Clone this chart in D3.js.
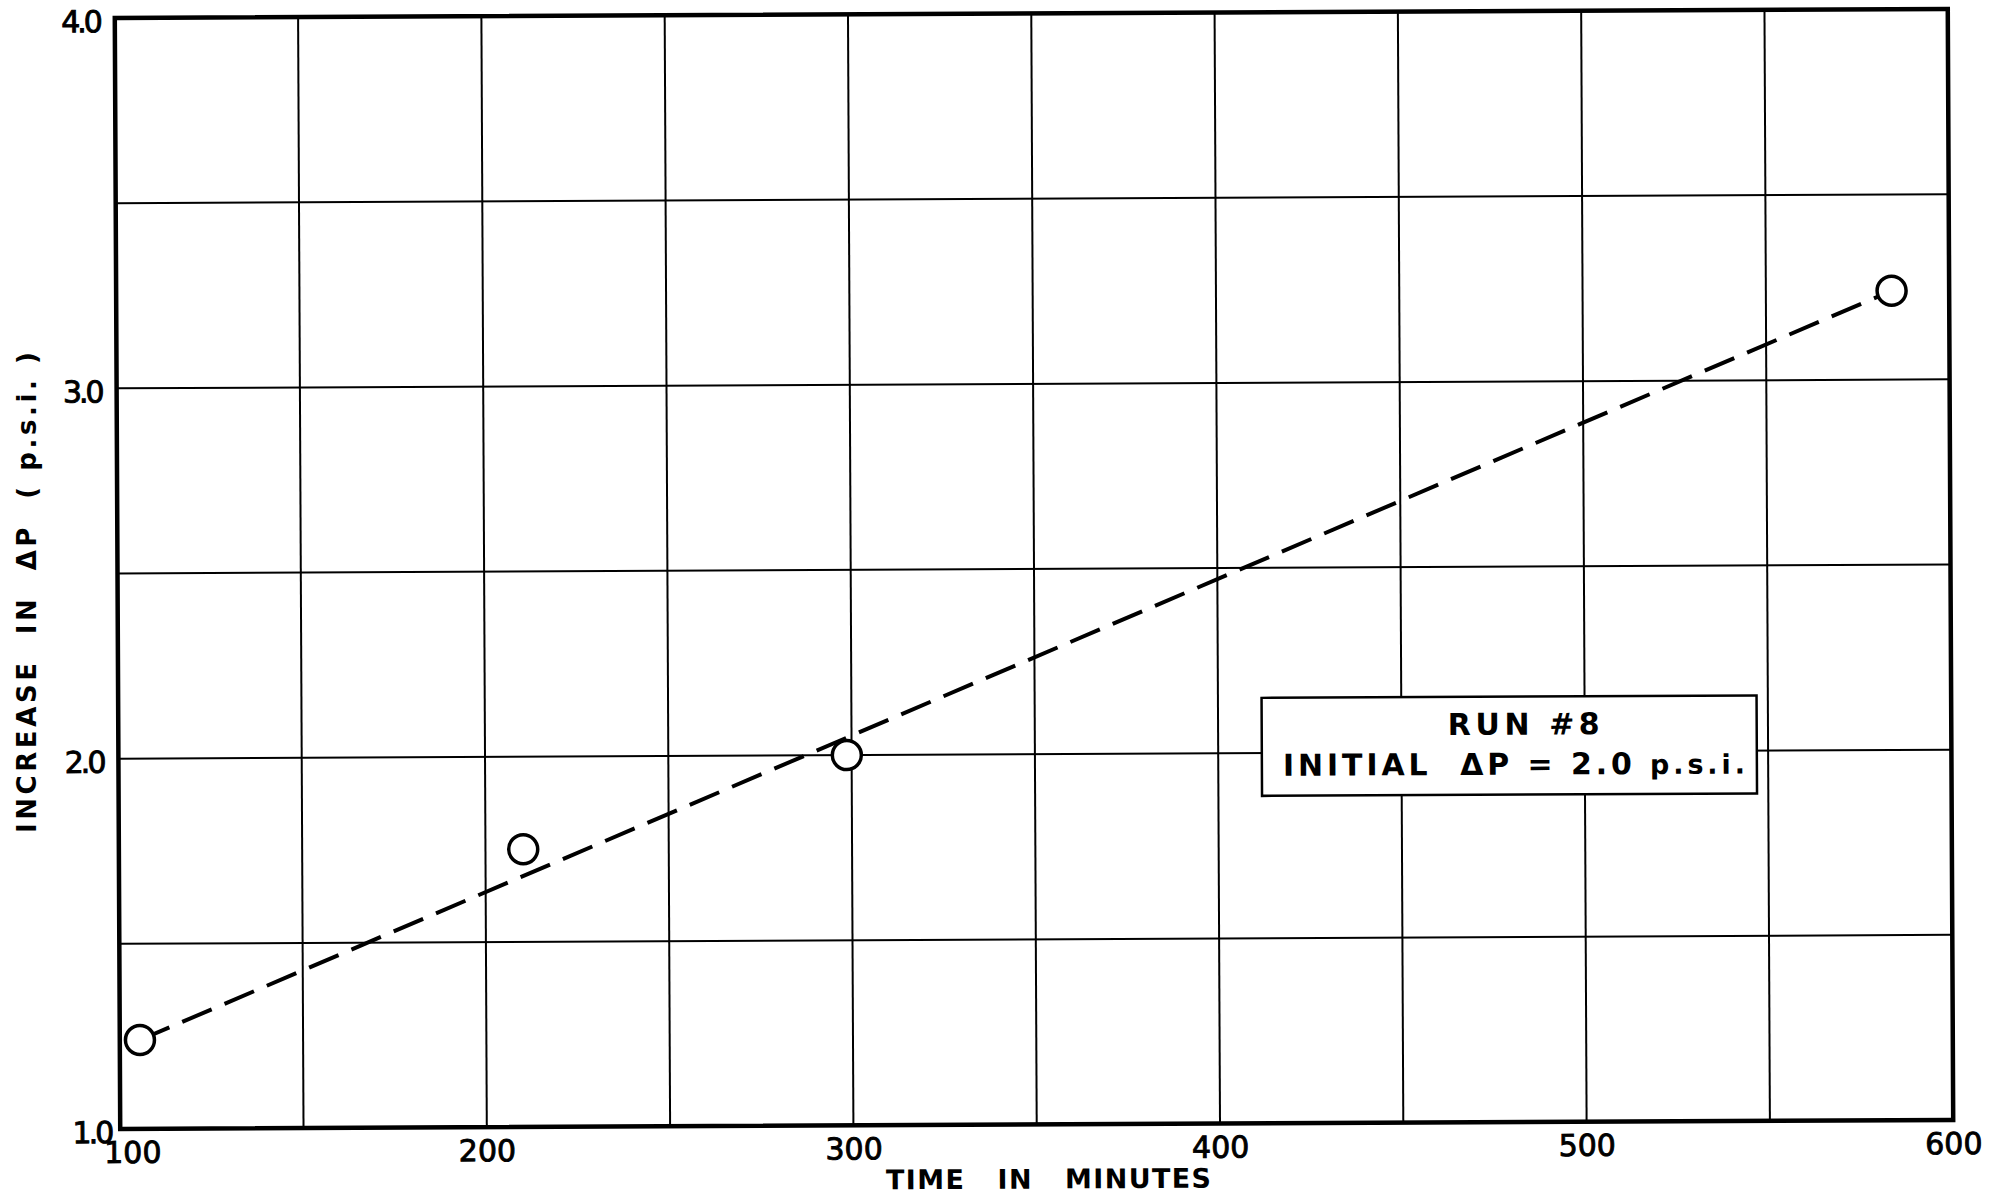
<!DOCTYPE html>
<html>
<head>
<meta charset="utf-8">
<script src="https://cdn.jsdelivr.net/npm/d3@7"></script>
<style>
  body { margin: 0; background: #fff; }
  svg text { font-family: "DejaVu Sans", sans-serif; fill: #000; font-weight: bold; }
</style>
</head>
<body>
<script>
// values
var minutes = [105.5, 210.3, 298.7, 584.3];
var increase = [1.24, 1.75, 2.0, 3.24];
var xTicks = [100, 200, 300, 400, 500, 600];
var yTicks = [1.0, 2.0, 3.0, 4.0];
var xGrid = [150, 200, 250, 300, 350, 400, 450, 500, 550];
var yGrid = [1.5, 2.0, 2.5, 3.0, 3.5];
var xLabels = ["100", "200", "300", "400", "500", "600"];
var yLabels = ["1.0", "2.0", "3.0", "4.0"];

var W = 1995, H = 1201;
var margin = {top: 13.5, left: 117.5},
    width = 1833,
    height = 1111;

var svg = d3.select("body").append("svg")
    .attr("width", W)
    .attr("height", H);

// the scan is tilted a little
var g = svg.append("g")
    .attr("transform", "rotate(-0.28, 1034, 570) translate(" + margin.left + "," + margin.top + ")");

var x = d3.scaleLinear().domain([100, 600]).range([0, width]);
var y = d3.scaleLinear().domain([1, 4]).range([height, 0]);

var pts = minutes.map(function(m, i) { return {m: m, v: increase[i]}; });

// grid
g.selectAll(".vg").data(xGrid).enter().append("line")
    .attr("x1", function(d) { return x(d); })
    .attr("x2", function(d) { return x(d); })
    .attr("y1", 0).attr("y2", height)
    .attr("stroke", "#000").attr("stroke-width", 2);

g.selectAll(".hg").data(yGrid).enter().append("line")
    .attr("y1", function(d) { return y(d); })
    .attr("y2", function(d) { return y(d); })
    .attr("x1", 0).attr("x2", width)
    .attr("stroke", "#000").attr("stroke-width", 2);

// frame
g.append("rect")
    .attr("width", width).attr("height", height)
    .attr("fill", "none")
    .attr("stroke", "#000").attr("stroke-width", 4.5);

// tick labels
var xAxis = d3.axisBottom(x).tickValues(xTicks).tickSize(0)
    .tickFormat(function(d, i) { return xLabels[i]; });
var xa = g.append("g").attr("transform", "translate(0," + height + ")").call(xAxis);
xa.select(".domain").remove();
xa.selectAll("text")
    .attr("y", 34).attr("dy", 0)
    .attr("dx", function(d) { return d === 100 ? 12 : 0; })
    .style("font-size", "30px")
    .style("font-weight", "normal")
    .attr("fill", "#000")
    .attr("stroke", "#000").attr("stroke-width", 0.9);

var yAxis = d3.axisLeft(y).tickValues(yTicks).tickSize(0)
    .tickFormat(function(d, i) { return yLabels[i]; });
var ya = g.append("g").call(yAxis);
ya.select(".domain").remove();
ya.selectAll("text")
    .attr("x", -15).attr("dy", "0.45em")
    .attr("dx", function(d) { return d === 1 ? 6 : 0; })
    .style("font-size", "30px")
    .style("font-weight", "normal")
    .style("letter-spacing", "-3px")
    .attr("fill", "#000")
    .attr("stroke", "#000").attr("stroke-width", 0.9);

// dashed trend line through first and last readings
var line = d3.line()
    .x(function(d) { return x(d.m); })
    .y(function(d) { return y(d.v); });

g.append("path")
    .datum([pts[0], pts[pts.length - 1]])
    .attr("d", line)
    .attr("fill", "none")
    .attr("stroke", "#000")
    .attr("stroke-width", 4)
    .attr("stroke-dasharray", "32,14");

// open circles
g.selectAll(".pt").data(pts).enter().append("circle")
    .attr("cx", function(d) { return x(d.m); })
    .attr("cy", function(d) { return y(d.v); })
    .attr("r", 14.5)
    .attr("fill", "#fff")
    .attr("stroke", "#000")
    .attr("stroke-width", 3.5);

// legend box
var bx = x(411.9), by = y(2.149);
var box = g.append("g").attr("transform", "translate(" + bx + "," + by + ")");
box.append("rect")
    .attr("width", 495).attr("height", 98)
    .attr("fill", "#fff")
    .attr("stroke", "#000").attr("stroke-width", 2.5);
box.append("text")
    .attr("x", 186).attr("y", 38)
    .attr("textLength", 152).attr("lengthAdjust", "spacing")
    .style("font-size", "30px")
    .text("RUN #8");
var t2 = box.append("text")
    .attr("x", 21).attr("y", 78)
    .attr("textLength", 462).attr("lengthAdjust", "spacing")
    .style("font-size", "30px")
    .style("white-space", "pre");
t2.append("tspan").text("INITIAL  ΔP = 2.0 ");
t2.append("tspan").style("font-size", "27px").text("p.s.i.");

// axis titles
g.append("text")
    .attr("x", 883 - margin.left).attr("y", height + 64)
    .attr("textLength", 325).attr("lengthAdjust", "spacing")
    .style("font-size", "27px")
    .style("white-space", "pre")
    .text("TIME   IN   MINUTES");

svg.append("text")
    .attr("transform", "translate(36,833) rotate(-90)")
    .attr("textLength", 481).attr("lengthAdjust", "spacing")
    .style("font-size", "26px")
    .style("white-space", "pre")
    .text("INCREASE  IN  ΔP  ( p.s.i. )");
</script>
</body>
</html>
